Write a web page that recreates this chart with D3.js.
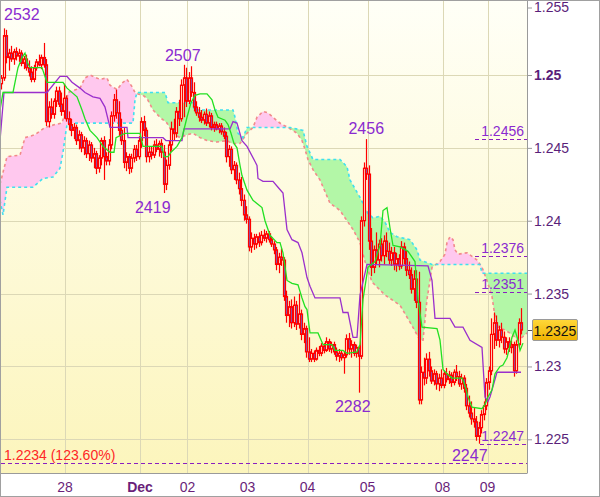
<!DOCTYPE html>
<html><head><meta charset="utf-8">
<script src="https://cdn.jsdelivr.net/npm/d3@7"></script>
<style>body{margin:0;background:#fff}svg{display:block;font-family:"Liberation Sans",Arial,sans-serif}</style>
</head><body><svg id="c" width="600" height="497"></svg>
<script>
// ---------- DATA ----------
const open=[1.2494,1.2498,1.2527,1.2512,1.2515,1.2511,1.2516,1.2513,1.2515,1.2508,
1.2511,1.2505,1.2502,1.2497,1.2505,1.2509,1.2507,1.2512,1.2507,1.2468,
1.2478,1.2473,1.2482,1.2489,1.2480,1.2475,1.2484,1.2470,1.2466,1.2462,
1.2464,1.2455,1.2459,1.2450,1.2455,1.2446,1.2452,1.2443,1.2446,1.2436,
1.2443,1.2455,1.2444,1.2441,1.2452,1.2472,1.2483,1.2474,1.2462,1.2455,
1.2440,1.2444,1.2436,1.2443,1.2449,1.2444,1.2455,1.2468,1.2462,1.2444,
1.2447,1.2445,1.2452,1.2449,1.2453,1.2447,1.2425,1.2438,1.2452,1.2463,
1.2460,1.2475,1.2470,1.2493,1.2498,1.2482,1.2498,1.2488,1.2478,1.2474,
1.2471,1.2469,1.2473,1.2467,1.2472,1.2464,1.2466,1.2463,1.2465,1.2461,
1.2458,1.2444,1.2449,1.2435,1.2438,1.2428,1.2422,1.2414,1.2404,1.2401,
1.2382,1.2388,1.2384,1.2389,1.2385,1.2390,1.2388,1.2391,1.2387,1.2384,
1.2380,1.2370,1.2375,1.2373,1.2348,1.2335,1.2341,1.2330,1.2342,1.2329,
1.2336,1.2322,1.2326,1.2310,1.2305,1.2309,1.2305,1.2311,1.2309,1.2314,
1.2311,1.2317,1.2312,1.2315,1.2310,1.2307,1.2309,1.2306,1.2308,1.2319,
1.2312,1.2315,1.2309,1.2313,1.2307,1.2400,1.2436,1.2432,1.2386,1.2368,
1.2380,1.2373,1.2384,1.2376,1.2386,1.2379,1.2373,1.2378,1.2370,1.2374,
1.2369,1.2382,1.2374,1.2366,1.2363,1.2353,1.2360,1.2344,1.2277,1.2296,
1.2292,1.2305,1.2297,1.2290,1.2295,1.2288,1.2292,1.2287,1.2295,1.2291,
1.2294,1.2289,1.2296,1.2293,1.2288,1.2292,1.2285,1.2273,1.2268,1.2264,
1.2262,1.2252,1.2258,1.2267,1.2273,1.2289,1.2297,1.2322,1.2330,1.2318,
1.2325,1.2320,1.2312,1.2317,1.2313,1.2315,1.2297,1.2315,1.2330];
const high=[1.2500,1.2532,1.2531,1.2518,1.2520,1.2518,1.2519,1.2518,1.2517,1.2513,
1.2514,1.2510,1.2506,1.2507,1.2511,1.2514,1.2514,1.2522,1.2511,1.2482,
1.2484,1.2484,1.2492,1.2492,1.2488,1.2494,1.2486,1.2475,1.2470,1.2467,
1.2466,1.2462,1.2461,1.2458,1.2457,1.2455,1.2454,1.2450,1.2448,1.2445,
1.2457,1.2458,1.2447,1.2456,1.2475,1.2487,1.2490,1.2482,1.2470,1.2464,
1.2447,1.2446,1.2446,1.2452,1.2452,1.2458,1.2471,1.2472,1.2464,1.2451,
1.2451,1.2455,1.2456,1.2455,1.2456,1.2452,1.2442,1.2455,1.2468,1.2470,
1.2478,1.2483,1.2497,1.2507,1.2505,1.2502,1.2506,1.2495,1.2482,1.2478,
1.2476,1.2475,1.2477,1.2475,1.2474,1.2468,1.2468,1.2467,1.2467,1.2464,
1.2461,1.2452,1.2451,1.2441,1.2440,1.2433,1.2430,1.2418,1.2410,1.2403,
1.2392,1.2391,1.2391,1.2392,1.2393,1.2394,1.2393,1.2393,1.2389,1.2386,
1.2382,1.2378,1.2381,1.2375,1.2352,1.2345,1.2346,1.2348,1.2345,1.2350,
1.2339,1.2330,1.2328,1.2320,1.2312,1.2311,1.2313,1.2314,1.2316,1.2316,
1.2320,1.2319,1.2317,1.2317,1.2313,1.2312,1.2311,1.2310,1.2322,1.2323,
1.2318,1.2317,1.2315,1.2314,1.2403,1.2440,1.2456,1.2438,1.2395,1.2383,
1.2392,1.2387,1.2388,1.2390,1.2392,1.2385,1.2382,1.2382,1.2378,1.2377,
1.2386,1.2385,1.2380,1.2372,1.2368,1.2366,1.2366,1.2365,1.2300,1.2306,
1.2309,1.2310,1.2300,1.2298,1.2297,1.2295,1.2298,1.2297,1.2299,1.2297,
1.2296,1.2298,1.2301,1.2297,1.2295,1.2294,1.2288,1.2280,1.2276,1.2272,
1.2266,1.2262,1.2270,1.2276,1.2292,1.2300,1.2333,1.2337,1.2335,1.2328,
1.2330,1.2324,1.2320,1.2320,1.2318,1.2317,1.2318,1.2333,1.2340];
const low=[1.2490,1.2496,1.2508,1.2503,1.2509,1.2507,1.2510,1.2509,1.2506,1.2504,
1.2503,1.2499,1.2495,1.2495,1.2503,1.2506,1.2504,1.2505,1.2465,1.2464,
1.2470,1.2470,1.2478,1.2478,1.2472,1.2470,1.2468,1.2462,1.2458,1.2456,
1.2452,1.2449,1.2447,1.2445,1.2443,1.2441,1.2440,1.2436,1.2432,1.2433,
1.2438,1.2428,1.2438,1.2438,1.2449,1.2468,1.2470,1.2458,1.2452,1.2436,
1.2434,1.2432,1.2433,1.2440,1.2441,1.2442,1.2450,1.2458,1.2440,1.2440,
1.2442,1.2443,1.2447,1.2444,1.2443,1.2419,1.2421,1.2435,1.2448,1.2455,
1.2457,1.2465,1.2468,1.2471,1.2478,1.2480,1.2485,1.2475,1.2472,1.2468,
1.2467,1.2466,1.2465,1.2464,1.2462,1.2461,1.2462,1.2460,1.2459,1.2456,
1.2440,1.2437,1.2432,1.2428,1.2425,1.2418,1.2410,1.2400,1.2398,1.2379,
1.2378,1.2380,1.2381,1.2382,1.2383,1.2386,1.2385,1.2385,1.2382,1.2377,
1.2366,1.2364,1.2369,1.2345,1.2330,1.2327,1.2326,1.2327,1.2325,1.2326,
1.2318,1.2316,1.2306,1.2303,1.2303,1.2303,1.2304,1.2307,1.2307,1.2309,
1.2310,1.2310,1.2309,1.2308,1.2304,1.2303,1.2304,1.2295,1.2306,1.2308,
1.2306,1.2307,1.2306,1.2282,1.2305,1.2396,1.2428,1.2380,1.2362,1.2364,
1.2370,1.2368,1.2372,1.2370,1.2375,1.2370,1.2369,1.2366,1.2365,1.2366,
1.2367,1.2370,1.2362,1.2360,1.2350,1.2345,1.2340,1.2274,1.2274,1.2287,
1.2288,1.2293,1.2288,1.2287,1.2284,1.2283,1.2285,1.2285,1.2289,1.2288,
1.2286,1.2287,1.2290,1.2286,1.2284,1.2282,1.2270,1.2265,1.2260,1.2258,
1.2249,1.2247,1.2254,1.2263,1.2270,1.2284,1.2294,1.2312,1.2314,1.2313,
1.2316,1.2309,1.2308,1.2310,1.2309,1.2293,1.2295,1.2313,1.2322];
const close=[1.2498,1.2527,1.2512,1.2515,1.2511,1.2516,1.2513,1.2515,1.2508,1.2511,
1.2505,1.2502,1.2497,1.2505,1.2509,1.2507,1.2512,1.2507,1.2468,1.2478,
1.2473,1.2482,1.2489,1.2480,1.2475,1.2484,1.2470,1.2466,1.2462,1.2464,
1.2455,1.2459,1.2450,1.2455,1.2446,1.2452,1.2443,1.2446,1.2436,1.2443,
1.2455,1.2444,1.2441,1.2452,1.2472,1.2483,1.2474,1.2462,1.2455,1.2440,
1.2444,1.2436,1.2443,1.2449,1.2444,1.2455,1.2468,1.2462,1.2444,1.2447,
1.2445,1.2452,1.2449,1.2453,1.2447,1.2425,1.2438,1.2452,1.2463,1.2460,
1.2475,1.2470,1.2493,1.2498,1.2482,1.2498,1.2488,1.2478,1.2474,1.2471,
1.2469,1.2473,1.2467,1.2472,1.2464,1.2466,1.2463,1.2465,1.2461,1.2458,
1.2444,1.2449,1.2435,1.2438,1.2428,1.2422,1.2414,1.2404,1.2401,1.2382,
1.2388,1.2384,1.2389,1.2385,1.2390,1.2388,1.2391,1.2387,1.2384,1.2380,
1.2370,1.2375,1.2373,1.2348,1.2335,1.2341,1.2330,1.2342,1.2329,1.2336,
1.2322,1.2326,1.2310,1.2305,1.2309,1.2305,1.2311,1.2309,1.2314,1.2311,
1.2317,1.2312,1.2315,1.2310,1.2307,1.2309,1.2306,1.2308,1.2319,1.2312,
1.2315,1.2309,1.2313,1.2307,1.2400,1.2436,1.2432,1.2386,1.2368,1.2380,
1.2373,1.2384,1.2376,1.2386,1.2379,1.2373,1.2378,1.2370,1.2374,1.2369,
1.2382,1.2374,1.2366,1.2363,1.2353,1.2360,1.2344,1.2277,1.2296,1.2292,
1.2305,1.2297,1.2290,1.2295,1.2288,1.2292,1.2287,1.2295,1.2291,1.2294,
1.2289,1.2296,1.2293,1.2288,1.2292,1.2285,1.2273,1.2268,1.2264,1.2262,
1.2252,1.2258,1.2267,1.2273,1.2289,1.2297,1.2322,1.2330,1.2318,1.2325,
1.2320,1.2312,1.2317,1.2313,1.2315,1.2297,1.2315,1.2330,1.2325];

// Ichimoku lines: [bar position, price]
const tenkan=[[0,1.2476],[1.2,1.2488],[5.2,1.2488],[6,1.2495],[7.2,1.2505],[8.8,1.2512],[10,1.2515],[10.8,1.2509],[12,1.2505],[16.8,1.2505],[17.2,1.2503],[18.8,1.2495],[25.2,1.2495],[26.8,1.2491],[30.8,1.2485],[32.8,1.2476],[34,1.2470],[36,1.2462],[38.8,1.2457],[41.2,1.2451],[44,1.2447],[45.6,1.2447],[46.4,1.2457],[50,1.2460],[56,1.2460],[57.2,1.2451],[64.8,1.2451],[65.6,1.2444],[67.2,1.2444],[68.4,1.2447],[70.8,1.2451],[72.8,1.2457],[74.8,1.2471],[76.4,1.2481],[78,1.2486],[80,1.2487],[82.8,1.2487],[84.8,1.2483],[86,1.2476],[87.2,1.2471],[90,1.2469],[91.2,1.2466],[92.4,1.2460],[93.6,1.2453],[94.8,1.2450],[96,1.2438],[96.8,1.2431],[98.8,1.2421],[101.2,1.2414],[104.8,1.2409],[106,1.2400],[108,1.2390],[110.8,1.2385],[112,1.2385],[113.2,1.2378],[114.8,1.2359],[116.8,1.2357],[119.2,1.2356],[120.8,1.2347],[122,1.2341],[122.8,1.2339],[124,1.2323],[127.2,1.2323],[129.2,1.2315],[132.8,1.2315],[134,1.2311],[137.2,1.2311],[138.8,1.2309],[142.8,1.2310],[144,1.2315],[145.2,1.2346],[147.2,1.2368],[150,1.2372],[152,1.2383],[153.2,1.2407],[154.8,1.2409],[156,1.2395],[157.2,1.2383],[160,1.2382],[163.2,1.2379],[166,1.2372],[167.2,1.2346],[168.8,1.2327],[174.8,1.2326],[176,1.2318],[177.2,1.2298],[178.8,1.2295],[180.8,1.2292],[184.8,1.2292],[186,1.2287],[187.2,1.2279],[188.8,1.2272],[192.8,1.2271],[194,1.2274],[195.2,1.2279],[196.8,1.2284],[198,1.2295],[200,1.2300],[201.2,1.2301],[202.8,1.2306],[204.8,1.2320],[206,1.2325],[207.2,1.2318],[208,1.2311],[209.2,1.2316]];
const kijun=[[0,1.2455],[1.6,1.2488],[18.8,1.2488],[24,1.2499],[26.8,1.2499],[28.8,1.2495],[32,1.2491],[34,1.2488],[37.2,1.2485],[40,1.2484],[42,1.2478],[44,1.2464],[50.8,1.2464],[51.2,1.2457],[65.2,1.2457],[66.4,1.2455],[72.8,1.2455],[73.6,1.2463],[92,1.2463],[93.2,1.2468],[94.8,1.2467],[96.8,1.2455],[98.8,1.2451],[102.8,1.2438],[103.2,1.2429],[105.2,1.2427],[109.2,1.2427],[111.2,1.2423],[113.2,1.2419],[114.8,1.2394],[116.8,1.2387],[119.2,1.2385],[120.8,1.2378],[122.8,1.2361],[124,1.2355],[126,1.2347],[136,1.2347],[137.2,1.2337],[139.2,1.2337],[141.2,1.2320],[142.8,1.2320],[144,1.2349],[146.8,1.2370],[171.2,1.2369],[172.8,1.2359],[174,1.2333],[180,1.2333],[182,1.2327],[185.2,1.2327],[188,1.2318],[192.8,1.2313],[194,1.2279],[195.2,1.2276],[196,1.2279],[198.8,1.2296],[208.4,1.2296]];
const spanA=[[0,1.2414],[1.2,1.2404],[2.8,1.2423],[13.2,1.2423],[17.2,1.2429],[21.2,1.2430],[24,1.2436],[25.2,1.2447],[26,1.2457],[26.8,1.2466],[28,1.2467],[53.2,1.2467],[54,1.2483],[54.8,1.2488],[66,1.2488],[67.2,1.2481],[77.2,1.2481],[77.6,1.2476],[93.2,1.2476],[94,1.2471],[95.2,1.2460],[97.2,1.2457],[98.8,1.2464],[116,1.2464],[121.2,1.2462],[122.8,1.2451],[125.2,1.2442],[136,1.2442],[138.8,1.2437],[140,1.2428],[144,1.2416],[147.2,1.2405],[149.2,1.2402],[152,1.2403],[154,1.2399],[156,1.2392],[158.8,1.2389],[164,1.2387],[166.8,1.2380],[168,1.2373],[172.8,1.2370],[192,1.2370],[192.8,1.2364],[210.8,1.2364]];
const spanB=[[0,1.2425],[2.8,1.2444],[8,1.2445],[10,1.2457],[14,1.2459],[18,1.2464],[22,1.2466],[24.8,1.2467],[26,1.2474],[27.2,1.2488],[32,1.2491],[34,1.2498],[36,1.2500],[40,1.2497],[42.8,1.2498],[44,1.2493],[46.8,1.2490],[49.2,1.2495],[50.8,1.2497],[52.8,1.2492],[54,1.2488],[55.2,1.2487],[57.2,1.2486],[58.8,1.2484],[61.2,1.2476],[64,1.2471],[66.8,1.2467],[69.2,1.2460],[72,1.2457],[74.8,1.2459],[77.2,1.2460],[80,1.2457],[82.8,1.2455],[86.8,1.2454],[90.8,1.2455],[92.8,1.2453],[96,1.2453],[98.8,1.2460],[101.2,1.2464],[102.8,1.2471],[105.2,1.2475],[107.2,1.2474],[109.2,1.2471],[111.2,1.2468],[112.8,1.2466],[115.2,1.2464],[118.8,1.2460],[120.8,1.2455],[122,1.2449],[123.2,1.2442],[125.2,1.2435],[128,1.2428],[132,1.2412],[136,1.2407],[138.8,1.2400],[141.2,1.2394],[144,1.2385],[146,1.2372],[148.8,1.2358],[154,1.2349],[160,1.2342],[164.8,1.2328],[168,1.2318],[169.2,1.2318],[170.8,1.2346],[172.8,1.2368],[176,1.2372],[178,1.2377],[178.8,1.2385],[180,1.2389],[181.2,1.2387],[182,1.2380],[183.2,1.2377],[186.8,1.2378],[190.8,1.2373],[192.8,1.2368],[194.8,1.2359],[196.8,1.2348],[198,1.2334],[199.2,1.2327],[202,1.2325],[204.8,1.2322],[207.2,1.2318],[208.8,1.2320],[210.8,1.2323]];

const dateTicks=[26,56,75,99,123,147,177,195];
const dateLabels=["28","Dec","02","03","04","05","08","09"];
const priceTicks=[1.225,1.23,1.235,1.24,1.245,1.25,1.255];
const extremeBars=[1,73,65,146,143,191];
const extremePrices=[1.2532,1.2507,1.2419,1.2456,1.2282,1.2247];
const extremeTexts=["2532","2507","2419","2456","2282","2247"];
const levelPrices=[1.2456,1.2376,1.2351,1.2247];
const levelStartBars=[190,190,190,192];
const fibPrice=1.2234, fibText="1.2234 (123.60%)";
const lastPrice=close[close.length-1];

// ---------- LAYOUT ----------
const W=600,H=497,PL=1,PT=1,PR=527,PB=473;
const svg=d3.select("#c");
const x=d3.scaleLinear().domain([0,210.4]).range([0,526]);
const y=d3.scaleLinear().domain([1.225,1.25]).range([439.3,75]);
const cx=i=>Math.round(x(i+0.5))+0.5;
const defs=svg.append("defs");
const bg=defs.append("linearGradient").attr("id","bg").attr("x1",0).attr("y1",0).attr("x2",0).attr("y2",1);
bg.append("stop").attr("offset","0%").attr("stop-color","#fffff7");
bg.append("stop").attr("offset","100%").attr("stop-color","#fcf5bc");
const gold=defs.append("linearGradient").attr("id","gold").attr("x1",0).attr("y1",0).attr("x2",0).attr("y2",1);
gold.append("stop").attr("offset","0%").attr("stop-color","#ffd83a");
gold.append("stop").attr("offset","100%").attr("stop-color","#efb200");
defs.append("clipPath").attr("id","plotClip").append("rect").attr("x",PL).attr("y",PT).attr("width",PR-PL).attr("height",PB-PT);
const areaAbove=d3.area().x(d=>x(d[0])).y0(-20).y1(d=>y(d[1]));
const areaBelow=d3.area().x(d=>x(d[0])).y0(700).y1(d=>y(d[1]));
defs.append("clipPath").attr("id","aboveA").append("path").attr("d",areaAbove(spanA));
defs.append("clipPath").attr("id","aboveB").append("path").attr("d",areaAbove(spanB));

svg.append("rect").attr("width",W).attr("height",H).attr("fill","#fff");
svg.append("rect").attr("x",PL).attr("y",PT).attr("width",PR-PL).attr("height",PB-PT).attr("fill","url(#bg)");

const plot=svg.append("g").attr("clip-path","url(#plotClip)");
// grid
plot.append("g").selectAll("line").data(priceTicks.filter(v=>v<1.255)).join("line")
 .attr("x1",PL).attr("x2",PR).attr("y1",d=>Math.round(y(d))+0.5).attr("y2",d=>Math.round(y(d))+0.5)
 .attr("stroke","#dcd8b6").attr("stroke-width",1);
plot.append("g").selectAll("line").data(dateTicks).join("line")
 .attr("x1",d=>Math.round(x(d))+0.5).attr("x2",d=>Math.round(x(d))+0.5).attr("y1",PT).attr("y2",PB)
 .attr("stroke","#dcd8b6").attr("stroke-width",1);

// cloud
plot.append("path").attr("d",areaBelow(spanA)).attr("fill","#b3f7a7").attr("clip-path","url(#aboveB)");
plot.append("path").attr("d",areaBelow(spanB)).attr("fill","#ffc8ee").attr("clip-path","url(#aboveA)");
const line=d3.line().x(d=>x(d[0])).y(d=>y(d[1]));
plot.append("path").attr("d",line(spanB)).attr("fill","none").attr("stroke","#f28a8a").attr("stroke-width",1.6).attr("stroke-dasharray","3,3");
plot.append("path").attr("d",line(spanA)).attr("fill","none").attr("stroke","#3fe0ef").attr("stroke-width",1.6).attr("stroke-dasharray","3,3");

// candles
const bars=d3.range(open.length);
const gc=plot.append("g");
gc.selectAll("line").data(bars).join("line")
 .attr("x1",cx).attr("x2",cx).attr("y1",i=>y(high[i])).attr("y2",i=>y(low[i]))
 .attr("stroke","#ff0000").attr("stroke-width",1.2);
gc.selectAll("rect").data(bars).join("rect")
 .attr("x",i=>cx(i)-1).attr("width",2)
 .attr("y",i=>y(Math.max(open[i],close[i])))
 .attr("height",i=>Math.max(0.5,Math.abs(y(open[i])-y(close[i]))))
 .attr("fill",i=>close[i]<open[i]?"#7660c4":"#fffbe4")
 .attr("stroke","#ff0000").attr("stroke-width",1.2);

// tenkan / kijun
plot.append("path").attr("d",line(kijun)).attr("fill","none").attr("stroke","#9a2fcc").attr("stroke-width",1.3);
plot.append("path").attr("d",line(tenkan)).attr("fill","none").attr("stroke","#22e022").attr("stroke-width",1.3);

// level lines
const gl=plot.append("g");
levelPrices.forEach((p,k)=>{
  const yy=Math.round(y(p))+0.5;
  gl.append("line").attr("x1",x(levelStartBars[k])).attr("x2",PR).attr("y1",yy).attr("y2",yy)
   .attr("stroke","#8a1fc0").attr("stroke-width",1.2).attr("stroke-dasharray","4,3");
  gl.append("text").attr("x",524).attr("y",yy-4).attr("text-anchor","end")
   .attr("font-size",14).attr("fill","#8a2ad0").text(d3.format(".4f")(p));
});
{
  const yy=Math.round(y(fibPrice))+0.5;
  gl.append("line").attr("x1",PL).attr("x2",PR).attr("y1",yy).attr("y2",yy)
   .attr("stroke","#8a1fc0").attr("stroke-width",1.2).attr("stroke-dasharray","4,3");
  gl.append("text").attr("x",4).attr("y",yy-4).attr("font-size",14).attr("fill","#ff2626").text(fibText);
}

// extreme labels
const exDx=[0,-1,-11,0,-6,-9], exDy=[-8,-4,20,-5,19,17], exAnchor=["start","middle","middle","middle","middle","middle"];
extremeBars.forEach((b,k)=>{
  const xx=exAnchor[k]==="start"?4:x(b+0.5)+exDx[k];
  svg.append("text").attr("x",xx).attr("y",y(extremePrices[k])+exDy[k])
   .attr("text-anchor",exAnchor[k]).attr("font-size",16).attr("fill","#8a2ad0").text(extremeTexts[k]);
});

// right axis
const ax=svg.append("g").attr("transform",`translate(${PR},0)`)
 .call(d3.axisRight(y).tickValues(priceTicks).tickSize(5).tickPadding(2).tickFormat(d3.format("~g")));
ax.select(".domain").remove();
ax.selectAll(".tick line").attr("stroke","#9a9a9a");
ax.selectAll(".tick text").attr("font-size",14).attr("font-family","Liberation Sans, Arial, sans-serif")
 .attr("fill","#5a1f7a").attr("font-weight",d=>d===1.25?"bold":"normal");
ax.selectAll(".tick").filter(d=>d===1.255).attr("transform","translate(0,8)");

// current price box
{
  const yy=Math.round(y(lastPrice))+0.5;
  svg.append("line").attr("x1",PR).attr("x2",532).attr("y1",yy).attr("y2",yy).attr("stroke","#555");
  svg.append("rect").attr("x",532.5).attr("y",yy-11).attr("width",45).attr("height",21).attr("rx",1.5)
   .attr("fill","url(#gold)").attr("stroke","#9a9a9a");
  svg.append("text").attr("x",555).attr("y",yy+5).attr("text-anchor","middle").attr("font-size",14)
   .attr("fill","#111").text(d3.format(".4f")(lastPrice));
}

// bottom labels
svg.append("g").selectAll("text").data(dateTicks).join("text")
 .attr("x",d=>x(d)).attr("y",492).attr("text-anchor","middle").attr("font-size",14)
 .attr("fill","#6a1f7a").attr("font-weight",(d,i)=>dateLabels[i]==="Dec"?"bold":"normal")
 .text((d,i)=>dateLabels[i]);

// borders
svg.append("line").attr("x1",PR+0.5).attr("x2",PR+0.5).attr("y1",0).attr("y2",PB).attr("stroke","#9a9a9a");
svg.append("line").attr("x1",0).attr("x2",PR+0.5).attr("y1",PB+0.5).attr("y2",PB+0.5).attr("stroke","#9a9a9a");
svg.append("rect").attr("x",0.5).attr("y",0.5).attr("width",W-1).attr("height",H-1).attr("fill","none").attr("stroke","#a0a0a0");
</script></body></html>
